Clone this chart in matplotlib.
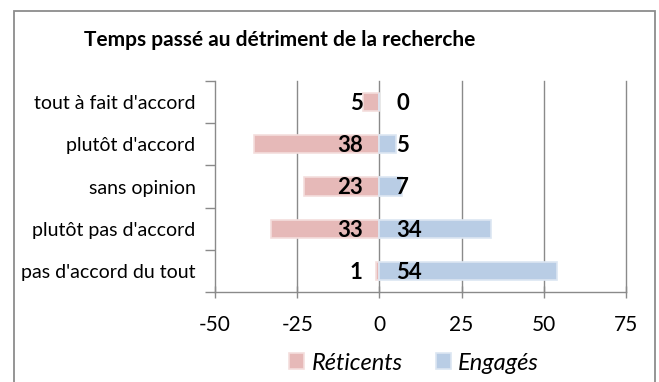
import matplotlib
matplotlib.use("Agg")
import matplotlib.pyplot as plt
from matplotlib.patches import Rectangle
import numpy as np

categories = ["tout à fait d'accord", "plutôt d'accord", "sans opinion",
              "plutôt pas d'accord", "pas d'accord du tout"]
reticents = [5, 38, 23, 33, 1]
engages = [0, 5, 7, 34, 54]
series_names = ["Réticents", "Engagés"]
x_ticks = [-50, -25, 0, 25, 50, 75]
title = "Temps passé au détriment de la recherche"

plt.rcParams["font.family"] = ["Lato", "DejaVu Sans"]

W, H = 659, 382
fig = plt.figure(figsize=(W / 100, H / 100), dpi=100)

# outer chart frame
fig.patches.append(Rectangle((14 / W, -0.02), (655 - 14) / W, 1.02 - 11 / H,
                             transform=fig.transFigure, fill=False,
                             edgecolor="#8c8c8c", linewidth=1.3))

ax = fig.add_axes([215 / W, 1 - 292 / H, (626 - 215) / W, (292 - 81) / H])

grid_c = "#8a8a8a"
pink, pink_edge = "#E6B9B8", "#F4DEDD"
blue, blue_edge = "#B9CDE5", "#DCE6F2"

y = np.arange(len(categories))
bh = 0.43
b1 = ax.barh(y, [-v for v in reticents], height=bh, color=pink,
             edgecolor=pink_edge, linewidth=1.2, label=series_names[0], zorder=3)
b2 = ax.barh(y, engages, height=bh, color=blue,
             edgecolor=blue_edge, linewidth=1.2, label=series_names[1], zorder=3)

for yi, v in zip(y, reticents):
    ax.annotate(f"{v}", (0, yi), xytext=(-12, -1), textcoords="offset points",
                ha="right", va="center", fontsize=16, fontweight="bold", zorder=5)
for yi, v in zip(y, engages):
    ax.annotate(f"{v}", (0, yi), xytext=(12, -1), textcoords="offset points",
                ha="left", va="center", fontsize=16, fontweight="bold", zorder=5)

ax.set_xlim(-50, 75)
ax.set_ylim(len(categories) - 0.5, -0.5)
ax.set_xticks(x_ticks)
ax.set_xticklabels([str(t) for t in x_ticks], fontsize=15)
ax.set_yticks(y)
ax.set_yticklabels(categories, fontsize=14)
ax.set_yticks(np.arange(len(categories) + 1) - 0.5, minor=True)

ax.tick_params(axis="y", which="major", length=0, pad=14)
ax.tick_params(axis="y", which="minor", direction="out", length=7,
               color=grid_c, width=1)
ax.tick_params(axis="x", which="major", direction="inout", length=9,
               color=grid_c, width=1, pad=12)

for xt in x_ticks[1:]:
    ax.axvline(xt, color=grid_c, linewidth=1, zorder=1, clip_on=False)

for s in ["top", "right"]:
    ax.spines[s].set_visible(False)
for s in ["left", "bottom"]:
    ax.spines[s].set_color(grid_c)
    ax.spines[s].set_linewidth(1)

fig.text(280 / W, 1 - 40 / H, title, ha="center", va="center",
         fontsize=15, fontweight="bold")

fig.legend(handles=[b1, b2], labels=series_names, loc="center",
           bbox_to_anchor=(414 / W, 1 - 363 / H), ncol=2, frameon=False,
           prop={"style": "italic", "size": 17},
           handlelength=0.65, handleheight=0.65, handletextpad=0.3,
           columnspacing=1.4, borderpad=0)

fig.savefig("out.png", dpi=100)
